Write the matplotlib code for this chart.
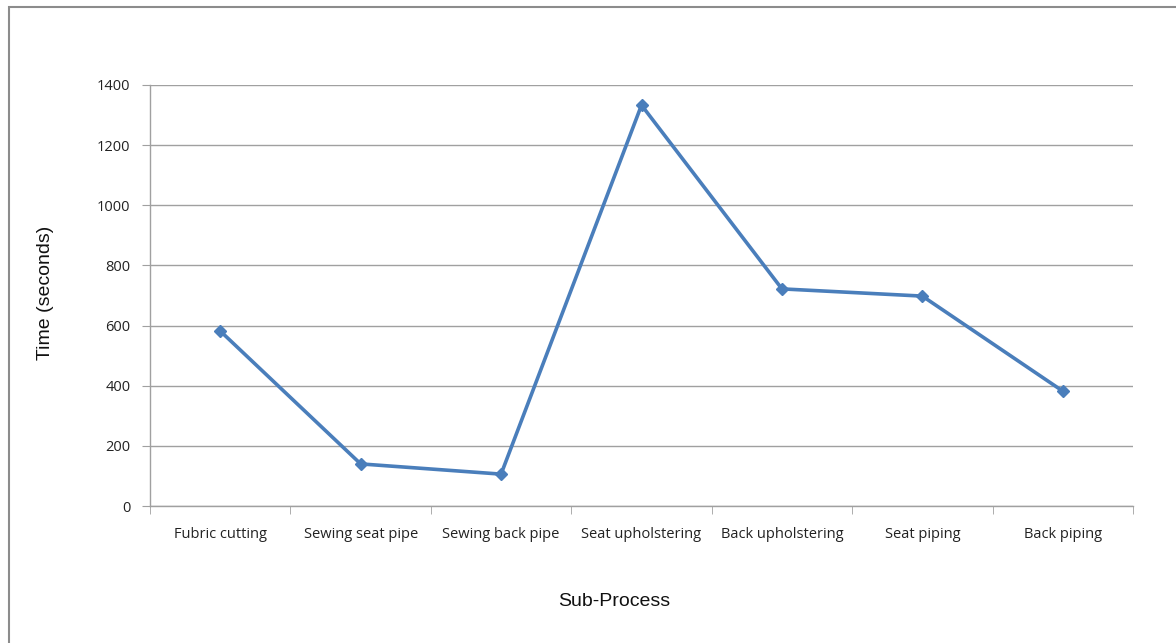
import matplotlib
matplotlib.use("Agg")
import matplotlib.pyplot as plt
from matplotlib.patches import Rectangle
import numpy as np

categories = ["Fubric cutting", "Sewing seat pipe", "Sewing back pipe",
              "Seat upholstering", "Back upholstering", "Seat piping", "Back piping"]
times = [582, 140, 106, 1333, 722, 698, 382]
y_ticks = [0, 200, 400, 600, 800, 1000, 1200, 1400]

W, H = 1176, 643
fig = plt.figure(figsize=(W / 100, H / 100), dpi=100)
fig.patch.set_facecolor("white")

# outer chart frame
fig.add_artist(Rectangle((9 / W, -0.05), 1.2, 1 - 7 / H + 0.05, transform=fig.transFigure,
                         fill=False, edgecolor="#8c8c8c", linewidth=1.5))

ax = fig.add_axes([150 / W, 1 - 506 / H, (1133 - 150) / W, (506 - 85) / H])
x = np.arange(len(categories))
ax.plot(x, times, color="#4a7ebb", linewidth=2.6, marker="D", markersize=6.5,
        markerfacecolor="#4a7ebb", markeredgecolor="#4a7ebb", zorder=3)

ax.set_xlim(-0.5, len(categories) - 0.5)
ax.set_ylim(0, 1400)
ax.set_yticks(y_ticks)
ax.set_yticklabels([str(v) for v in y_ticks], fontsize=10.5, family="Open Sans", color="#222222")
ax.grid(axis="y", color="#a0a0a0", linewidth=1.0)
ax.set_axisbelow(True)

ax.set_xticks(x)
ax.set_xticklabels(categories, fontsize=10.5, family="Open Sans", color="#222222")
ax.tick_params(axis="x", which="major", length=0, pad=15)
ax.set_xticks(np.arange(-0.5, len(categories), 1.0), minor=True)
ax.tick_params(axis="x", which="minor", length=6, color="#a0a0a0", direction="out")
ax.tick_params(axis="y", length=6, color="#a0a0a0", pad=8)

for s in ["top", "right"]:
    ax.spines[s].set_visible(False)
for s in ["left", "bottom"]:
    ax.spines[s].set_color("#a0a0a0")
    ax.spines[s].set_linewidth(1.0)

fig.text(45 / W, 1 - 293 / H, "Time (seconds)", rotation=90, ha="center", va="center",
         fontsize=14, family="Liberation Sans", color="#111111")
fig.text(614 / W, 1 - 601 / H, "Sub-Process", ha="center", va="center",
         fontsize=14, family="Liberation Sans", color="#111111")

fig.savefig("out.png", dpi=100, facecolor="white")
